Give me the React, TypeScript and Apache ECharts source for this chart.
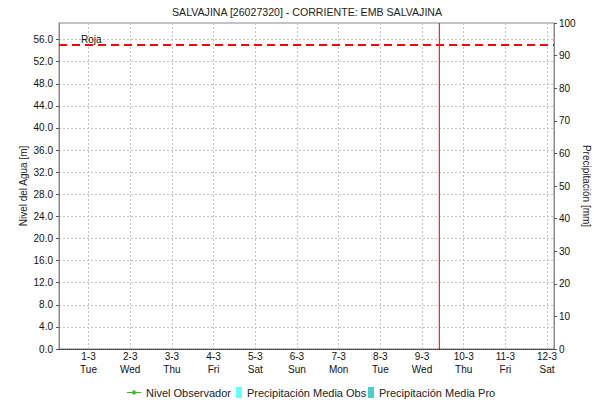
import React, { useEffect, useRef } from "react";
import * as echarts from "echarts";

// Data
const dayLabels = ["1-3", "2-3", "3-3", "4-3", "5-3", "6-3", "7-3", "8-3", "9-3", "10-3", "11-3", "12-3"];
const weekdayLabels = ["Tue", "Wed", "Thu", "Fri", "Sat", "Sun", "Mon", "Tue", "Wed", "Thu", "Fri", "Sat"];
// x values in hours relative to 1-3 00:00
const dayHours = dayLabels.map((_, i) => i * 24);
const xMinHours = -17;
const xMaxHours = 268;
const nowHours = 202; // current-time marker (9-3 ~10:00)
const nivelObservador: [number, number][] = [];
const precipMediaObs: [number, number][] = [];
const precipMediaPro: [number, number][] = [];
const nivelRoja = 55;
const leftMax = 59;
const rightMax = 100;

const FONT = "'Liberation Sans', Arial, sans-serif";

export default function App() {
  const ref = useRef<HTMLDivElement>(null);
  useEffect(() => {
    if (!ref.current) return;
    const chart = echarts.init(ref.current, undefined, { renderer: "svg" });
    const gridLine = { show: true, lineStyle: { color: "#c4c4c4", type: [2, 2] as any, width: 1 } };
    const legendText = { fontFamily: FONT, fontSize: 11, color: "#222" };
    const rectIcon = "path://M0,0h6v11h-6z";
    chart.setOption({
      animation: false,
      textStyle: { fontFamily: FONT },
      title: {
        text: "SALVAJINA [26027320] - CORRIENTE: EMB SALVAJINA",
        left: 167,
        top: 1,
        textStyle: { fontFamily: FONT, fontSize: 10.6, fontWeight: "normal", color: "#222" },
      },
      legend: [
        {
          top: 382,
          left: 122,
          itemWidth: 14,
          itemHeight: 10,
          itemGap: 4,
          textStyle: legendText,
          data: [{ name: "Nivel Observador", icon: "path://M0,4.5h14v1h-14z M5.5,3h3v4h-3z" }],
        },
        {
          top: 382,
          left: 231,
          itemWidth: 6,
          itemHeight: 11,
          textStyle: legendText,
          data: [{ name: "Precipitación Media Obs", icon: rectIcon }],
        },
        {
          top: 382,
          left: 363,
          itemWidth: 6,
          itemHeight: 11,
          textStyle: legendText,
          data: [{ name: "Precipitación Media Pro", icon: rectIcon }],
        },
      ],
      grid: {
        left: 59,
        right: 41,
        top: 23,
        bottom: 55,
        outerBoundsMode: "none",
        containLabel: false,
        show: true,
        borderColor: "#888",
        borderWidth: 1,
        backgroundColor: "#fff",
      },
      xAxis: {
        type: "value",
        min: xMinHours,
        max: xMaxHours,
        axisLine: { show: true, onZero: false, lineStyle: { color: "#333", type: [1, 1] as any, width: 1 } },
        axisTick: { show: false, customValues: dayHours },
        axisLabel: {
          customValues: dayHours,
          fontSize: 10,
          color: "#111",
          lineHeight: 13,
          margin: 1,
          formatter: (v: number) => {
            const i = Math.round(v / 24);
            return dayLabels[i] + "\n" + weekdayLabels[i];
          },
        },
        splitLine: gridLine,
      },
      yAxis: [
        {
          type: "value",
          min: 0,
          max: leftMax,
          interval: 4,
          name: "Nivel del Agua [m]",
          nameLocation: "middle",
          nameGap: 31,
          nameMoveOverlap: false,
          nameTextStyle: { fontFamily: FONT, fontSize: 10, color: "#222" },
          axisLine: { show: true, onZero: false, lineStyle: { color: "#888" } },
          axisTick: { show: true, length: 3, lineStyle: { color: "#555" } },
          axisLabel: { fontSize: 10, color: "#111", margin: 6, showMaxLabel: false, formatter: (v: number) => v.toFixed(1) },
          splitLine: gridLine,
        },
        {
          type: "value",
          min: 0,
          max: rightMax,
          interval: 10,
          position: "right",
          name: "Precipitación [mm]",
          nameLocation: "middle",
          nameRotate: -90,
          nameGap: 27,
          nameMoveOverlap: false,
          nameTextStyle: { fontFamily: FONT, fontSize: 10, color: "#222" },
          axisLine: { show: true, onZero: false, lineStyle: { color: "#888" } },
          axisTick: { show: true, length: 3, lineStyle: { color: "#555" } },
          axisLabel: { fontSize: 10, color: "#111", margin: 5 },
          splitLine: { show: false },
        },
      ],
      series: [
        {
          name: "Nivel Observador",
          type: "line",
          xAxisIndex: 0,
          yAxisIndex: 0,
          data: nivelObservador,
          color: "#33bb22",
          symbol: "rect",
          symbolSize: 4,
          lineStyle: { width: 1 },
          markLine: {
            silent: true,
            symbol: "none",
            data: [
              {
                yAxis: nivelRoja,
                lineStyle: { color: "#ff0000", width: 2, type: [8, 5] as any },
                label: {
                  show: true,
                  formatter: "Roja",
                  position: "insideStartTop",
                  color: "#111",
                  fontSize: 10,
                  fontFamily: FONT,
                  distance: [22, 1] as any,
                },
              },
            ],
          },
        },
        {
          name: "Precipitación Media Obs",
          type: "bar",
          xAxisIndex: 0,
          yAxisIndex: 1,
          data: precipMediaObs,
          color: "#66ffff",
        },
        {
          name: "Precipitación Media Pro",
          type: "bar",
          xAxisIndex: 0,
          yAxisIndex: 1,
          data: precipMediaPro,
          color: "#48d1cc",
        },
        {
          name: "Ahora",
          type: "custom",
          xAxisIndex: 0,
          yAxisIndex: 0,
          silent: true,
          z: 5,
          data: [[nowHours]],
          renderItem: (_params: any, api: any) => {
            const x = api.value(0);
            const top = api.coord([x, leftMax]);
            const bottom = api.coord([x, 0]);
            return {
              type: "line",
              shape: { x1: top[0], y1: top[1], x2: bottom[0], y2: bottom[1] },
              style: { stroke: "#ff2020", lineWidth: 1.2 },
            };
          },
        },
      ],
    });
    return () => chart.dispose();
  }, []);
  return (
    <div style={{ position: "absolute", left: 0, top: 0, width: 595, height: 404, background: "#fff" }}>
      <div ref={ref} style={{ width: 595, height: 404 }} />
    </div>
  );
}
